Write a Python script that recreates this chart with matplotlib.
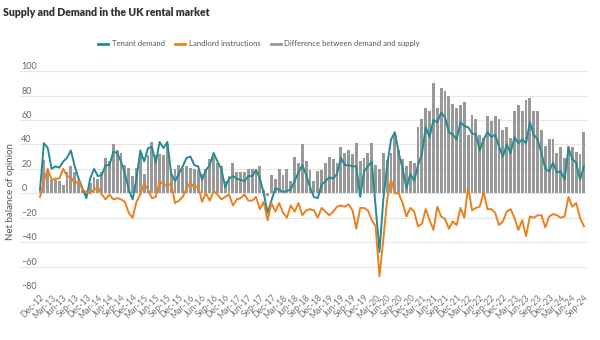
import matplotlib
matplotlib.use("Agg")
import matplotlib.pyplot as plt
from matplotlib.lines import Line2D
import pandas as pd
import numpy as np

plt.rcParams['font.family'] = ['Lato', 'DejaVu Sans']

# monthly, Dec-12 .. Sep-24
months = pd.date_range('2012-12-01', '2024-09-01', freq='MS')
month_labels = [d.strftime('%b-%y') for d in months]

series_names = ['Tenant demand', 'Landlord instructions',
                'Difference between demand and supply']

tenant_demand = [
    3, 41, 37, 20, 22, 21, 26, 29, 35, 22, 12, 4,
    -4, 12, 20, 14, 15, 23, 23, 34, 33, 26, 16, 3,
    -5, 12, 35, 26, 37, 38, 25, 42, 37, 42, 16, 10,
    16, 22, 29, 30, 23, 22, 11, 19, 23, 33, 26, 20,
    5, 12, 14, 12, 11, 10, 14, 14, 19, 12, 0, -16,
    -6, 4, 3, 1, 2, 3, 10, 17, 23, 15, 5, -3,
    -4, 7, 10, 13, 12, 16, 29, 23, 23, 22, 22, -3,
    18, 22, 26, -11, -48, -5, 23, 44, 50, 33, 20, 4,
    16, 10, 23, 32, 54, 46, 60, 58, 66, 62, 50, 48,
    44, 58, 55, 54, 49, 48, 35, 44, 50, 46, 48, 38,
    30, 40, 33, 46, 41, 44, 41, 58, 48, 44, 33, 20,
    18, 25, 17, 18, 11, 37, 28, 25, 11, 22,
]

landlord_instructions = [
    -3, 10, 20, 11, 12, 12, 20, 14, 13, 8, 10, 3,
    1, 0, 3, 5, -1, -5, -1, -5, -4, -5, -7, -16,
    -20, -7, -1, 8, 3, -4, -3, 10, 7, 6, 8, -8,
    -6, -3, 4, 9, 4, 6, -7, 0, -6, 2, -1, -5,
    -3, -1, -10, -5, -4, -1, -6, -6, -3, -13, -7, -22,
    -8, -15, -8, -16, -20, -10, -15, -8, -18, -14, -13, -14,
    -20, -12, -15, -18, -15, -11, -10, -11, -9, -14, -29, -12,
    -12, -14, -22, -27, -68, -38, -5, 11, 0, 0, -8, -19,
    -12, -15, -27, -25, -13, -22, -30, -11, -19, -21, -29, -23,
    -26, -12, -20, 5, -14, -12, -11, 1, -13, -13, -16, -26,
    -23, -15, -13, -20, -30, -22, -35, -19, -20, -18, -18, -28,
    -19, -17, -18, -20, -19, -3, -11, -8, -20, -27,
]

difference = [
    4, 27, 19, 11, 11, 10, 7, 17, 22, 17, 8, 3,
    -2, 8, 13, 12, 17, 29, 26, 40, 35, 33, 23, 21,
    14, 21, 31, 16, 31, 42, 31, 32, 31, 40, 16, 20,
    23, 21, 22, 21, 20, 19, 16, 20, 28, 30, 25, 22,
    10, 14, 25, 17, 17, 17, 20, 20, 20, 22, 3, -2,
    15, 12, 20, 15, 20, 10, 30, 25, 40, 26, 19, 10,
    18, 19, 25, 30, 28, 25, 38, 33, 35, 32, 41, 26,
    29, 33, 41, 23, 20, 33, 27, 33, 48, 35, 28, 22,
    26, 25, 54, 61, 70, 67, 90, 70, 86, 84, 80, 73,
    70, 72, 75, 48, 64, 61, 48, 45, 63, 59, 63, 61,
    52, 54, 45, 67, 72, 67, 76, 78, 67, 67, 52, 39,
    44, 44, 33, 38, 29, 39, 38, 34, 32, 50,
]

teal = '#268a90'
orange = '#e8811f'
grey = '#999999'

fig = plt.figure(figsize=(6, 3.4), dpi=100)
ax = fig.add_axes([0.0333, 0.144, 0.945, 0.647])

x = np.arange(len(months))
ax.bar(x, difference, width=0.75, color=grey, zorder=2)
ax.plot(x, tenant_demand, color=teal, lw=1.4, zorder=3)
ax.plot(x, landlord_instructions, color=orange, lw=1.4, zorder=4)

ax.set_xlim(-5.2, 141.8)
ax.set_ylim(-80, 100)
ax.set_yticks(range(-80, 101, 20))
ax.grid(axis='y', color='#e6e6e6', lw=0.8, zorder=0)
for s in ax.spines.values():
    s.set_visible(False)

ax.tick_params(axis='y', length=0, pad=-1, labelsize=6.5, labelcolor='#666666')
for lab in ax.get_yticklabels():
    lab.set_horizontalalignment('left')
    lab.set_verticalalignment('bottom')

ax.set_xticks(x[::3])
ax.set_xticklabels(month_labels[::3], rotation=45, ha='right', va='top',
                   rotation_mode='anchor')
ax.tick_params(axis='x', length=0, pad=1.5, labelsize=6.3, labelcolor='#777777')

fig.text(0.005, 0.963, 'Supply and Demand in the UK rental market',
         fontsize=7.6, fontweight='heavy', color='#333333', va='center')
fig.text(0.017, 0.438, 'Net balance of opinion', rotation=90,
         fontsize=7, color='#555555', va='center', ha='center')

handles = [Line2D([], [], color=teal, lw=2), Line2D([], [], color=orange, lw=2),
           Line2D([], [], color=grey, lw=2)]
fig.legend(handles, series_names, loc='center',
           bbox_to_anchor=(0.432, 0.871), ncol=3, frameon=False,
           fontsize=5.6, handlelength=1.2, handletextpad=0.5, columnspacing=1.4,
           labelcolor='#555555')

fig.savefig('out.png', dpi=100)
